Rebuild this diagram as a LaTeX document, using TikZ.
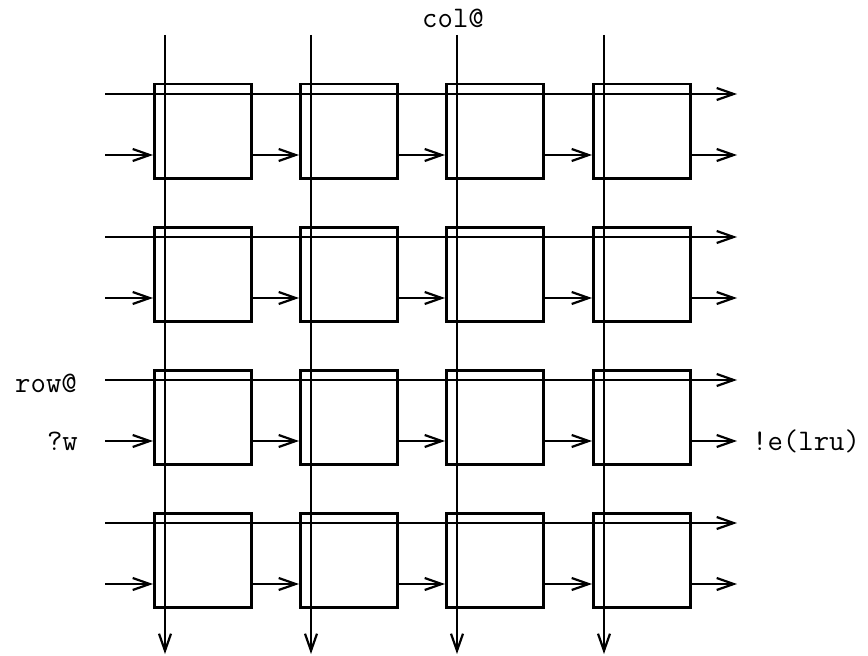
\documentclass[tikz,border=0pt]{standalone}
\usetikzlibrary{arrows.meta,calc}
\begin{document}
\begin{tikzpicture}[x=1bp,y=-1bp,
  cell/.style={draw,line width=2.5bp,minimum width=97bp,minimum height=94bp,inner sep=0pt,anchor=north west},
  wire/.style={line width=2.5bp},
  arr/.style={wire,-{Straight Barb[length=17bp,width=12bp,line width=2.2bp]}},
  lbl/.style={font=\ttfamily\fontsize{30}{30}\selectfont,inner sep=0pt}]
\useasboundingbox (0,0) rectangle (868,656);
% 4x4 array of cells and the row wire end points
\foreach \r in {1,...,4}{
  \foreach \x [count=\c] in {153,299,445,592}{
    \node[cell] (b-\r-\c) at (\x,{83+143*(\r-1)}) {};
  }
  \coordinate (hl-\r) at (105,{83+143*(\r-1)+11});
  \coordinate (hr-\r) at (737,{83+143*(\r-1)+11});
  \coordinate (il-\r) at (105,{83+143*(\r-1)+72});
  \coordinate (ir-\r) at (737,{83+143*(\r-1)+72});
}
% column wire end points
\foreach \x [count=\c] in {165,311,457,604}{
  \coordinate (vt-\c) at (\x,35);
  \coordinate (vb-\c) at (\x,654);
}
% row wires and chained links
\foreach \r in {1,...,4}{
  \draw[arr] (hl-\r) -- (hr-\r);
  \draw[arr] (il-\r) -- (il-\r -| b-\r-1.west);
  \foreach \c/\n in {1/2,2/3,3/4}
    \draw[arr] (b-\r-\c.east |- il-\r) -- (b-\r-\n.west |- il-\r);
  \draw[arr] (b-\r-4.east |- ir-\r) -- (ir-\r);
}
% column wires
\foreach \c in {1,...,4}
  \draw[arr] (vt-\c) -- (vb-\c);
% labels
\node[lbl] (col) at (453,18) {col@};
\node[lbl,anchor=east] (row) at (77,383) {row@};
\node[lbl,anchor=east] (in) at (78,441) {?w};
\node[lbl,anchor=west] (out) at (752,441) {!e(lru)};
\end{tikzpicture}
\end{document}
